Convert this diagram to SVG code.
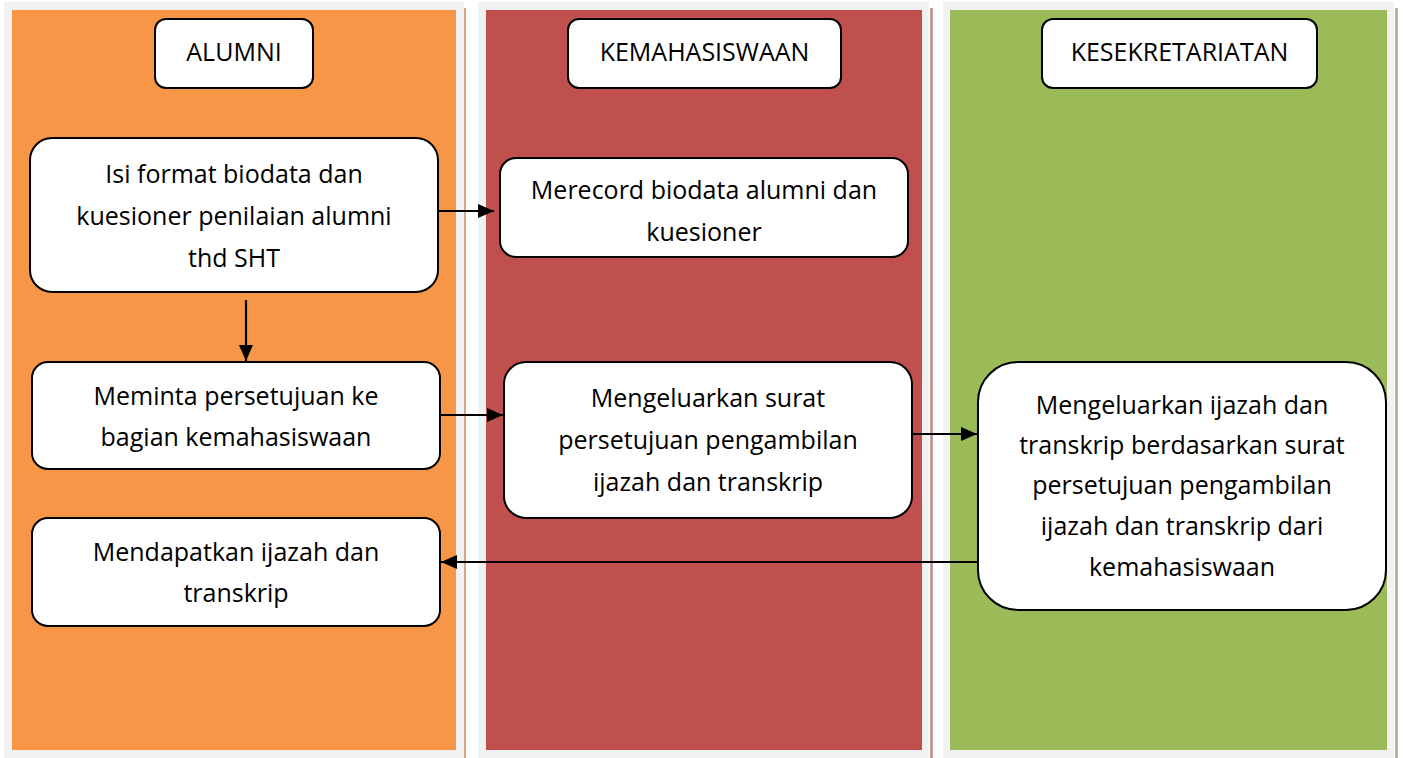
<svg xmlns="http://www.w3.org/2000/svg" width="1403" height="758" viewBox="0 0 1403 758">
<style>
.frame{fill:#F2F2F2}
.box{fill:#FFFFFF;stroke:#000000;stroke-width:2}
.t{font-family:"Open Sans","Noto Sans","Liberation Sans",sans-serif;font-size:25px;fill:#000000;text-anchor:middle}
.conn{stroke:#000000;stroke-width:2.2;fill:none;marker-end:url(#ah)}
</style>
<defs>
<marker id="ah" viewBox="0 0 16 14" refX="16" refY="7" markerWidth="16" markerHeight="14" markerUnits="userSpaceOnUse" orient="auto">
<path d="M0,0 L16,7 L0,14 Z" fill="#000000"/>
</marker>
</defs>
<rect width="1403" height="758" fill="#FFFFFF"/>
<g id="lane-alumni">
<rect class="frame" x="4" y="2" width="460" height="756"/>
<rect x="464" y="8" width="2" height="750" fill="#D6A886"/>
<rect x="12" y="10" width="444" height="740" fill="#F79646"/>
</g>
<g id="lane-kemahasiswaan">
<rect class="frame" x="478" y="2" width="451" height="756"/>
<rect x="930" y="8" width="3" height="750" fill="#C49A9C"/>
<rect x="486" y="10" width="436" height="740" fill="#C0504D"/>
</g>
<g id="lane-kesekretariatan">
<rect class="frame" x="943" y="2" width="451" height="756"/>
<rect x="1395" y="8" width="3" height="750" fill="#AAB99C"/>
<rect x="950" y="10" width="437" height="740" fill="#9BBB59"/>
</g>
<g id="h-alumni">
<rect class="box" x="155" y="19" width="158" height="69" rx="11"/>
<text class="t" x="234" y="61">ALUMNI</text>
</g>
<g id="h-kemahasiswaan">
<rect class="box" x="568" y="19" width="273" height="69" rx="11"/>
<text class="t" x="704.5" y="61">KEMAHASISWAAN</text>
</g>
<g id="h-kesekretariatan">
<rect class="box" x="1042" y="19" width="275" height="69" rx="11"/>
<text class="t" x="1179.5" y="61">KESEKRETARIATAN</text>
</g>
<g id="n-isi">
<rect class="box" x="30" y="138" width="408" height="154" rx="22"/>
<text class="t" x="234" y="183">Isi format biodata dan</text>
<text class="t" x="234" y="225">kuesioner penilaian alumni</text>
<text class="t" x="234" y="267">thd SHT</text>
</g>
<g id="n-merecord">
<rect class="box" x="500" y="158" width="408" height="99" rx="16"/>
<text class="t" x="704" y="199">Merecord biodata alumni dan</text>
<text class="t" x="704" y="241">kuesioner</text>
</g>
<g id="n-meminta">
<rect class="box" x="32" y="362" width="408" height="107" rx="16"/>
<text class="t" x="236" y="405">Meminta persetujuan ke</text>
<text class="t" x="236" y="446">bagian kemahasiswaan</text>
</g>
<g id="n-surat">
<rect class="box" x="504" y="362" width="408" height="156" rx="22"/>
<text class="t" x="708" y="407">Mengeluarkan surat</text>
<text class="t" x="708" y="449">persetujuan pengambilan</text>
<text class="t" x="708" y="491">ijazah dan transkrip</text>
</g>
<g id="n-ijazah">
<rect class="box" x="978" y="362" width="408" height="248" rx="40"/>
<text class="t" x="1182" y="414">Mengeluarkan ijazah dan</text>
<text class="t" x="1182" y="454">transkrip berdasarkan surat</text>
<text class="t" x="1182" y="494">persetujuan pengambilan</text>
<text class="t" x="1182" y="535">ijazah dan transkrip dari</text>
<text class="t" x="1182" y="576">kemahasiswaan</text>
</g>
<g id="n-mendapatkan">
<rect class="box" x="32" y="518" width="408" height="108" rx="16"/>
<text class="t" x="236" y="561">Mendapatkan ijazah dan</text>
<text class="t" x="236" y="602">transkrip</text>
</g>
<g id="connectors">
<line class="conn" x1="438" y1="211" x2="494" y2="211"/>
<line class="conn" x1="246" y1="300" x2="246" y2="361"/>
<line class="conn" x1="440" y1="415" x2="503" y2="415"/>
<line class="conn" x1="912" y1="434" x2="977" y2="434"/>
<line class="conn" x1="978" y1="562" x2="441" y2="562"/>
</g>
</svg>
